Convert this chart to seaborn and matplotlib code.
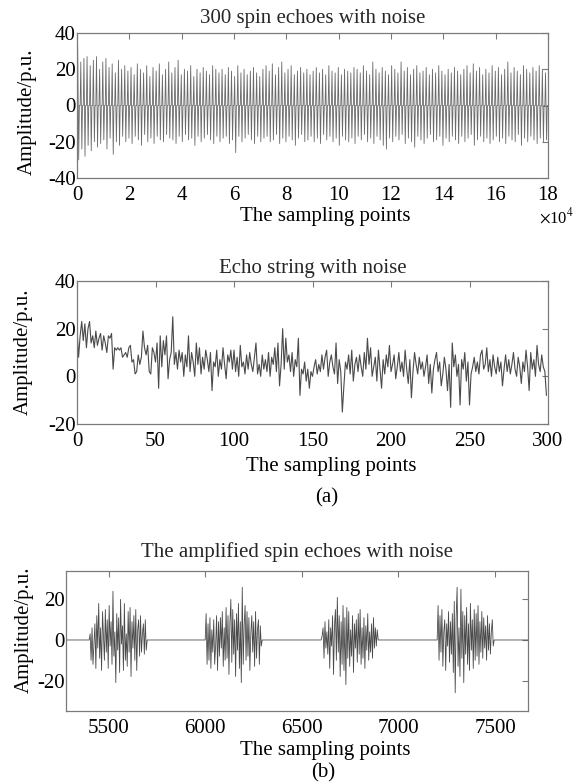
import numpy as np
import pandas as pd
import matplotlib
matplotlib.use('Agg')
import matplotlib.pyplot as plt
import seaborn as sns

# --- data -----------------------------------------------------------------
# (a) top: 300 spin echoes, summarised as one up/down stroke per 1200 samples
TOP_STEP = 1200
top_hi = [33, 24, 26, 27, 22, 25, 27, 20, 24, 26, 21, 23, 18, 25, 20,
          22, 19, 21, 17, 23, 20, 18, 22, 16, 21, 19, 23, 17, 20, 24,
          18, 21, 25, 17, 20, 19, 22, 16, 20, 18, 21, 19, 17, 22, 20,
          18, 20, 17, 21, 19, 16, 22, 18, 20, 17, 19, 21, 18, 16, 20,
          22, 19, 23, 17, 21, 24, 18, 20, 22, 17, 19, 21, 18, 20, 17,
          19, 21, 18, 20, 17, 22, 19, 18, 21, 17, 20, 19, 18, 21, 20,
          18, 22, 19, 17, 24, 20, 18, 21, 19, 17, 22, 20, 18, 24, 19,
          21, 17, 20, 22, 18, 19, 21, 17, 20, 18, 22, 19, 17, 20, 18,
          21, 19, 17, 20, 22, 18, 23, 19, 21, 17, 20, 18, 22, 19, 21,
          17, 20, 24, 18, 21, 19, 17, 22, 20, 18, 21, 19, 22, 20, 18]
top_lo = [-30, -24, -28, -22, -25, -20, -23, -21, -19, -24, -18, -27, -20, -22, -17,
          -20, -18, -21, -17, -19, -22, -16, -20, -18, -21, -17, -19, -20, -16, -18,
          -19, -21, -17, -20, -16, -19, -18, -22, -17, -20, -18, -16, -19, -21, -17,
          -20, -18, -17, -21, -19, -26, -17, -20, -18, -16, -19, -21, -17, -20, -18,
          -17, -20, -19, -16, -21, -18, -20, -17, -19, -22, -18, -16, -20, -19, -17,
          -20, -18, -21, -16, -19, -17, -20, -18, -22, -17, -19, -20, -18, -21, -17,
          -19, -16, -20, -18, -21, -17, -19, -22, -24, -18, -20, -17, -19, -16, -21,
          -18, -20, -23, -17, -19, -21, -18, -16, -20, -19, -17, -22, -18, -20, -17,
          -19, -21, -17, -20, -18, -16, -22, -19, -17, -20, -18, -21, -19, -17, -20,
          -18, -21, -17, -19, -20, -16, -22, -18, -20, -17, -19, -21, -18, -20, -19]

# (a) bottom: echo string, 300 samples
echo_string = [20, 8, 17, 23, 15, 22, 12, 20, 23, 14,
               17, 12, 19, 13, 16, 18, 11, 17, 14, 10,
               17, 16, 18, 3, 12, 11, 12, 11, 12, 8,
               9, 10, 8, 12, 13, 6, 7, 1, 2, 9,
               5, 8, 19, 12, 9, 13, 2, 1, 12, 10,
               6, 14, -5, 17, 4, 15, 9, 17, -1, 7,
               10, 25, 5, 10, 3, 11, 6, 10, 0, 9,
               4, 17, 2, 10, 6, 0, 14, 5, 12, 1,
               8, 3, 11, 7, 2, 10, -6, 6, 4, 11,
               0, 7, 3, 12, 5, -1, 9, 6, 11, 3,
               11, 2, 8, 0, 13, 4, 6, 1, 9, 3,
               10, 5, 2, 8, 14, 1, 5, 0, 9, 3,
               7, 2, 10, 0, 8, 5, 12, 2, 14, -4,
               5, 20, 3, 16, 6, 9, 2, 10, 0, 7,
               4, 16, -8, 3, 1, 6, -2, 3, -5, 2,
               0, 4, 7, 1, 5, 2, 9, 3, 8, 11,
               0, 6, 9, 4, 1, 14, -3, 7, 2, -15,
               -4, 6, 3, 9, 1, 11, -2, 5, 8, 2,
               9, 4, 0, 10, 3, 16, 5, 12, 0, 4,
               8, -2, 11, 3, -5, 7, 1, 9, 4, 13,
               2, 5, 9, -1, 4, 10, 2, 6, 0, 11,
               3, -3, 7, -9, 2, 10, 5, 1, 8, 3,
               6, 0, 4, 9, -3, 5, -7, 3, 7, 10,
               2, 6, -4, 1, 8, 3, -6, 5, -13, 14,
               4, 9, 0, 5, -12, 7, 3, 10, -2, 6,
               -12, 1, 4, 8, 2, 6, 1, 9, 11, 3,
               5, 12, 2, 7, 0, 9, 4, 1, 8, 2,
               6, -4, 3, 9, 2, 7, 1, 5, 10, 3,
               0, 8, 4, -3, 6, 2, 11, 4, -6, 10,
               3, 7, 0, 13, 5, 2, 9, 4, 2, -8]

# (b): four amplified echoes, each 300 samples long
burst_starts = [5400, 6000, 6600, 7200]
BURST_LEN = 300
burst_1 = [3, -10, 6, -12, -2, 8, -14, 12, -4, 18, -9, 6, -15, 14, 2, -10, 15, -6, 10, -14,
           17, -3, 9, -12, 24, -8, 4, -21, 13, -5, 11, -16, 20, -2, 7, -15, 18, -10, 3, -13,
           14, -6, 16, -18, 9, -4, 12, -10, 15, -15, 5, 10, -8, 12, -6, 3, 8, -7, 10, -5]
burst_2 = [13, -12, 8, -10, 11, -14, 5, -6, 10, -12, -3, 12, -15, 9, -8, 11, -4, 14, -13, 6,
           -10, 16, -9, 12, -17, 8, 20, -11, 15, -7, 10, -18, 13, -5, 18, -14, 9, -21, 26, -12,
           7, 17, -10, 14, -8, 11, -15, 3, 12, -6, 9, -13, 14, -9, 5, 10, -12, 7, -3, 0]
burst_3 = [2, 6, -9, 9, -4, 4, -7, 10, -14, 6, -3, 12, -17, 7, 15, -10, 21, -6, 12, -18,
           9, -12, 17, -15, 11, -22, 16, -9, 14, -13, 5, -8, 12, -16, 8, -4, 10, -11, 13, -7,
           15, -12, 6, -9, 11, -14, 7, -5, 13, -10, 4, -6, 8, -9, 11, -4, 6, -3, 5, 0]
burst_4 = [17, -10, 12, -6, 15, -13, 4, 10, -15, 8, -3, 14, -11, 9, -7, 13, -16, 19, -26, 11,
           26, -13, 6, -18, 25, -9, 14, -21, 12, -7, 16, -12, 8, -15, 18, -5, 10, -14, 15, -10,
           13, -8, 17, -12, 9, -6, 14, -9, 11, -4, 7, -10, 12, -5, 8, -7, 4, 10, -3, 0]
bursts = [burst_1, burst_2, burst_3, burst_4]

# ---------------------------------------------------------------------------
sns.set_theme(style='white')
plt.rcParams['font.family'] = ['Liberation Serif', 'DejaVu Serif']
plt.rcParams['mathtext.fontset'] = 'stix'
FS = 15
EDGE = '#7a7a7a'
LINE = '#4a4a4a'
plt.rcParams.update({
    'axes.edgecolor': EDGE,
    'axes.linewidth': 0.9,
    'axes.unicode_minus': False,
    'xtick.color': EDGE,
    'ytick.color': EDGE,
    'xtick.labelcolor': 'black',
    'ytick.labelcolor': 'black',
    'xtick.labelsize': FS,
    'ytick.labelsize': FS,
})


def style_axes(ax):
    ax.tick_params(direction='in', top=True, right=True, length=4, width=0.8)
    ax.tick_params(axis='x', pad=6)
    ax.tick_params(axis='y', pad=1)
    ax.set_xlabel('')
    ax.set_ylabel('')


# top signal: each stroke goes 0 -> hi -> lo -> 0, then a zero gap
tx, ty = [], []
for k, (h, l) in enumerate(zip(top_hi, top_lo)):
    x0 = k * TOP_STEP
    tx += [x0, x0 + 250, x0 + 650, x0 + 900]
    ty += [0, h, l, 0]
tx.append(len(top_hi) * TOP_STEP)
ty.append(0)
df_top = pd.DataFrame({'x': np.array(tx) / 1e4, 'y': ty})

df_echo = pd.DataFrame({'x': np.arange(len(echo_string)), 'y': echo_string})

# zeros between the echoes, echo samples spread over each 300-sample window
bx, by = [5280], [0]
for start, vals in zip(burst_starts, bursts):
    bx += [start] + list(start + np.linspace(0, BURST_LEN, len(vals) + 2)[1:-1]) + [start + BURST_LEN]
    by += [0] + vals + [0]
bx.append(7670)
by.append(0)
df_b = pd.DataFrame({'x': bx, 'y': by})

W, H = 581, 784
fig = plt.figure(figsize=(W / 100, H / 100), dpi=100)


def axes_px(left, top, right, bottom):
    return fig.add_axes([left / W, 1 - bottom / H, (right - left) / W, (bottom - top) / H])


ax1 = axes_px(77, 33, 548, 178)
sns.lineplot(data=df_top, x='x', y='y', ax=ax1, color='#6a6a6a', linewidth=0.6,
             sort=False, estimator=None)
ax1.set_xlim(0, 18)
ax1.set_ylim(-40, 40)
ax1.set_xticks(range(0, 19, 2))
ax1.set_yticks([-40, -20, 0, 20, 40])
style_axes(ax1)
ax1.set_title('300 spin echoes with noise', fontsize=FS, pad=7)

ax2 = axes_px(77, 281, 548, 424)
sns.lineplot(data=df_echo, x='x', y='y', ax=ax2, color=LINE, linewidth=0.8,
             sort=False, estimator=None)
ax2.set_xlim(0, 300)
ax2.set_ylim(-20, 40)
ax2.set_xticks(range(0, 301, 50))
ax2.set_yticks([-20, 0, 20, 40])
style_axes(ax2)
ax2.set_title('Echo string with noise', fontsize=FS, pad=6)

ax3 = axes_px(66, 571, 528, 711)
sns.lineplot(data=df_b, x='x', y='y', ax=ax3, color=LINE, linewidth=0.6,
             sort=False, estimator=None)
ax3.set_xlim(5280, 7670)
ax3.set_ylim(-35, 34)
ax3.set_xticks([5500, 6000, 6500, 7000, 7500])
ax3.set_yticks([-20, 0, 20])
style_axes(ax3)
ax3.set_title('The amplified spin echoes with noise', fontsize=FS, pad=10)


# labels placed where they sit in the reference
def ftext(x, y, s, size=FS, **kw):
    fig.text(x / W, 1 - y / H, s, fontsize=size, color='black',
             ha='center', va='center', **kw)


ftext(325, 217, 'The sampling points')
ftext(556, 217, r'$\times$10$^4$', size=12)
ftext(331, 466, 'The sampling points')
ftext(327, 498, '(a)')
ftext(325, 751, 'The sampling points')
ftext(323, 773, '(b)')
ftext(27, 112, 'Amplitude/p.u.', rotation=90)
ftext(23, 352, 'Amplitude/p.u.', rotation=90)
ftext(24, 630, 'Amplitude/p.u.', rotation=90)

fig.savefig('out.png', dpi=100)
plt.close(fig)
